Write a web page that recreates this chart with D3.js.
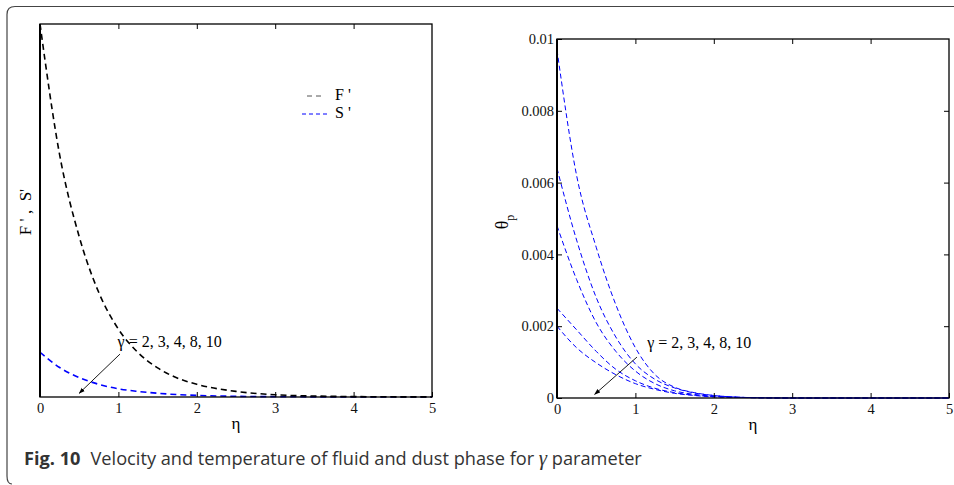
<!DOCTYPE html>
<html lang="en">

<head>
    <meta charset="utf-8">
    <title>Fig. 10</title>
    <script type="text/javascript" src="https://d3js.org/d3.v7.min.js"></script>
    <style type="text/css">
        body { margin: 0; background: #fff; }
        .serif { font-family: "Liberation Serif", "Times New Roman", serif; }
    </style>
</head>

<body>
    <svg width="954" height="485"></svg>
    <script type="text/javascript">
        //eta grid shared by every curve
        const eta = [0, 0.25, 0.5, 0.75, 1, 1.25, 1.5, 1.75, 2, 2.5, 3, 3.5, 4, 4.5, 5];

        //Left panel: velocity profiles (normalised)
        const fPrime = [1, 0.65, 0.43, 0.28, 0.182, 0.119, 0.078, 0.051, 0.034, 0.015, 0.006, 0.0026, 0.0011, 0.0005, 0.0002];
        const sPrime = [0.12, 0.079, 0.052, 0.034, 0.022, 0.015, 0.010, 0.0065, 0.0043, 0.0019, 0.0008, 0.0004, 0.0002, 0.0001, 0];

        //Right panel: theta_p for gamma = 2, 3, 4, 8, 10
        const gammaValues = [2, 3, 4, 8, 10];
        const thetaP = [
            [0.0097, 0.0062, 0.0042, 0.0026, 0.0014, 0.00065, 0.0003, 0.00015, 0.00007, 0.00001, 0, 0, 0, 0, 0],
            [0.0064, 0.0044, 0.0028, 0.0017, 0.00095, 0.00052, 0.00028, 0.00014, 0.00007, 0.00001, 0, 0, 0, 0, 0],
            [0.0048, 0.0033, 0.0021, 0.0013, 0.00075, 0.0004, 0.0002, 0.0001, 0.00005, 0.00001, 0, 0, 0, 0, 0],
            [0.0025, 0.0019, 0.0013, 0.0008, 0.00048, 0.00027, 0.00015, 0.00008, 0.00004, 0.00001, 0, 0, 0, 0, 0],
            [0.0020, 0.0014, 0.00098, 0.00065, 0.0004, 0.00024, 0.00013, 0.00007, 0.00003, 0.00001, 0, 0, 0, 0, 0]
        ];

        //Tick labels
        const xTicks = [0, 1, 2, 3, 4, 5];
        const xTickLabels = ['0', '1', '2', '3', '4', '5'];
        const yTicksRight = [0, 0.002, 0.004, 0.006, 0.008, 0.01];
        const yTickLabelsRight = ['0', '0.002', '0.004', '0.006', '0.008', '0.01'];

        const svg = d3.select("svg");

        //Rounded frame (top + left only)
        svg.append('path')
            .attr('d', 'M954,6.5 H15 Q7,6.5 7,14.5 V476 Q7,484 12,484')
            .attr('fill', 'none')
            .attr('stroke', '#444')
            .attr('stroke-width', 1.2);

        //Arrow head
        svg.append('defs').append('marker')
            .attr('id', 'arrow')
            .attr('viewBox', '0 0 10 10')
            .attr('refX', 9).attr('refY', 5)
            .attr('markerWidth', 7).attr('markerHeight', 7)
            .attr('orient', 'auto')
            .append('path')
            .attr('d', 'M0,1.5 L10,5 L0,8.5 Z')
            .attr('fill', '#000');

        //Draws box, inward ticks and labels for one panel
        function drawFrame(g, x, y, yTicks, yLabels) {
            const [x0, x1] = x.range();
            const [y0, y1] = y.range();
            g.append('g')
                .attr('transform', 'translate(0,' + y0 + ')')
                .call(d3.axisBottom(x).tickValues(xTicks).tickSize(-5).tickPadding(6)
                    .tickFormat((d, i) => xTickLabels[i]))
                .call(a => a.select('.domain').remove());
            g.append('g')
                .attr('transform', 'translate(0,' + y1 + ')')
                .call(d3.axisTop(x).tickValues(xTicks.slice(1, -1)).tickSize(-5).tickFormat(''))
                .call(a => a.select('.domain').remove());
            if (yTicks) {
                g.append('g')
                    .attr('transform', 'translate(' + x0 + ',0)')
                    .call(d3.axisLeft(y).tickValues(yTicks).tickSize(-5).tickPadding(3)
                        .tickFormat((d, i) => yLabels[i]))
                    .call(a => a.select('.domain').remove());
                g.append('g')
                    .attr('transform', 'translate(' + x1 + ',0)')
                    .call(d3.axisRight(y).tickValues(yTicks.slice(1, -1)).tickSize(-5).tickFormat(''))
                    .call(a => a.select('.domain').remove());
            }
            g.selectAll('.tick line').attr('stroke', '#000');
            g.selectAll('.tick text')
                .style('font-family', '"Liberation Serif", serif')
                .style('font-size', '14.5px')
                .style('fill', '#111');
            g.append('rect')
                .attr('x', x0).attr('y', y1)
                .attr('width', x1 - x0).attr('height', y0 - y1)
                .attr('fill', 'none').attr('stroke', '#000').attr('stroke-width', 1.3);
            g.append('line')
                .attr('x1', x0).attr('x2', x0).attr('y1', y1).attr('y2', y0)
                .attr('stroke', '#000').attr('stroke-width', 2);
            g.append('text')
                .attr('class', 'serif')
                .attr('x', (x0 + x1) / 2).attr('y', y0 + 32)
                .attr('text-anchor', 'middle')
                .style('font-size', '17px')
                .text('η');
        }

        function gammaNote(g, x, y, labelPos, from, to) {
            g.append('line')
                .attr('x1', x(from[0])).attr('y1', y(from[1]))
                .attr('x2', x(to[0])).attr('y2', y(to[1]))
                .attr('stroke', '#000').attr('stroke-width', 0.9)
                .attr('marker-end', 'url(#arrow)');
            g.append('text')
                .attr('class', 'serif')
                .attr('x', x(labelPos[0])).attr('y', y(labelPos[1]))
                .style('font-size', '16px')
                .text('γ = ' + gammaValues.join(', '));
        }

        //---------- Left panel ----------
        const xL = d3.scaleLinear().domain([0, 5]).range([40, 432]);
        const yL = d3.scaleLinear().domain([0, 1]).range([397, 24]);
        const left = svg.append('g');

        const lineL = d3.line()
            .x((d, i) => xL(eta[i]))
            .y(d => yL(d))
            .curve(d3.curveMonotoneX);

        left.append('path').datum(sPrime)
            .attr('d', lineL).attr('fill', 'none')
            .attr('stroke', '#0000ff').attr('stroke-width', 1.6).attr('stroke-dasharray', '6,4');
        left.append('path').datum(fPrime)
            .attr('d', lineL).attr('fill', 'none')
            .attr('stroke', '#000').attr('stroke-width', 1.6).attr('stroke-dasharray', '6,4');

        drawFrame(left, xL, yL, null, null);

        left.append('text')
            .attr('class', 'serif')
            .attr('transform', 'translate(31,212) rotate(-90)')
            .attr('text-anchor', 'middle')
            .style('font-size', '17px')
            .attr('xml:space', 'preserve')
            .text("F ' ,  S'");

        //Legend
        const legend = left.append('g').attr('class', 'serif').style('font-size', '16px');
        legend.append('line').attr('x1', 307).attr('x2', 325).attr('y1', 96).attr('y2', 96)
            .attr('stroke', '#555').attr('stroke-width', 1).attr('stroke-dasharray', '5,4');
        legend.append('text').attr('x', 335).attr('y', 100).text("F '");
        legend.append('line').attr('x1', 302).attr('x2', 328).attr('y1', 114).attr('y2', 114)
            .attr('stroke', '#0000ff').attr('stroke-width', 1).attr('stroke-dasharray', '4,3');
        legend.append('text').attr('x', 335).attr('y', 118).text("S '");

        gammaNote(left, xL, yL, [0.99, 0.134], [1.02, 0.115], [0.5, 0.01]);

        //---------- Right panel ----------
        const xR = d3.scaleLinear().domain([0, 5]).range([557, 949]);
        const yR = d3.scaleLinear().domain([0, 0.01]).range([398, 39]);
        const right = svg.append('g');

        const lineR = d3.line()
            .x((d, i) => xR(eta[i]))
            .y(d => yR(d))
            .curve(d3.curveMonotoneX);

        right.selectAll('path.theta')
            .data(thetaP)
            .enter()
            .append('path')
            .attr('class', 'theta')
            .attr('d', lineR)
            .attr('fill', 'none')
            .attr('stroke', '#0000ff')
            .attr('stroke-width', 1)
            .attr('stroke-dasharray', '5,3');

        drawFrame(right, xR, yR, yTicksRight, yTickLabelsRight);

        const yLab = right.append('text')
            .attr('class', 'serif')
            .attr('transform', 'translate(508,222) rotate(-90)')
            .attr('text-anchor', 'middle')
            .style('font-size', '18px');
        yLab.append('tspan').text('θ');
        yLab.append('tspan').attr('dy', 6).style('font-size', '12px').text('p');

        gammaNote(right, xR, yR, [1.15, 0.00139], [1.02, 0.00114], [0.48, 0.0001]);

        //---------- Caption ----------
        const caption = svg.append('text')
            .attr('x', 24).attr('y', 465)
            .style('font-family', '"Open Sans", sans-serif')
            .style('font-size', '18.2px')
            .attr('fill', '#333');
        caption.append('tspan').style('font-weight', 'bold').text('Fig. 10');
        caption.append('tspan').attr('dx', 10).text('Velocity and temperature of fluid and dust phase for ');
        caption.append('tspan').style('font-family', '"Liberation Serif", serif').style('font-style', 'italic')
            .style('font-size', '21px').text('γ');
        caption.append('tspan').text(' parameter');
    </script>
</body>

</html>
